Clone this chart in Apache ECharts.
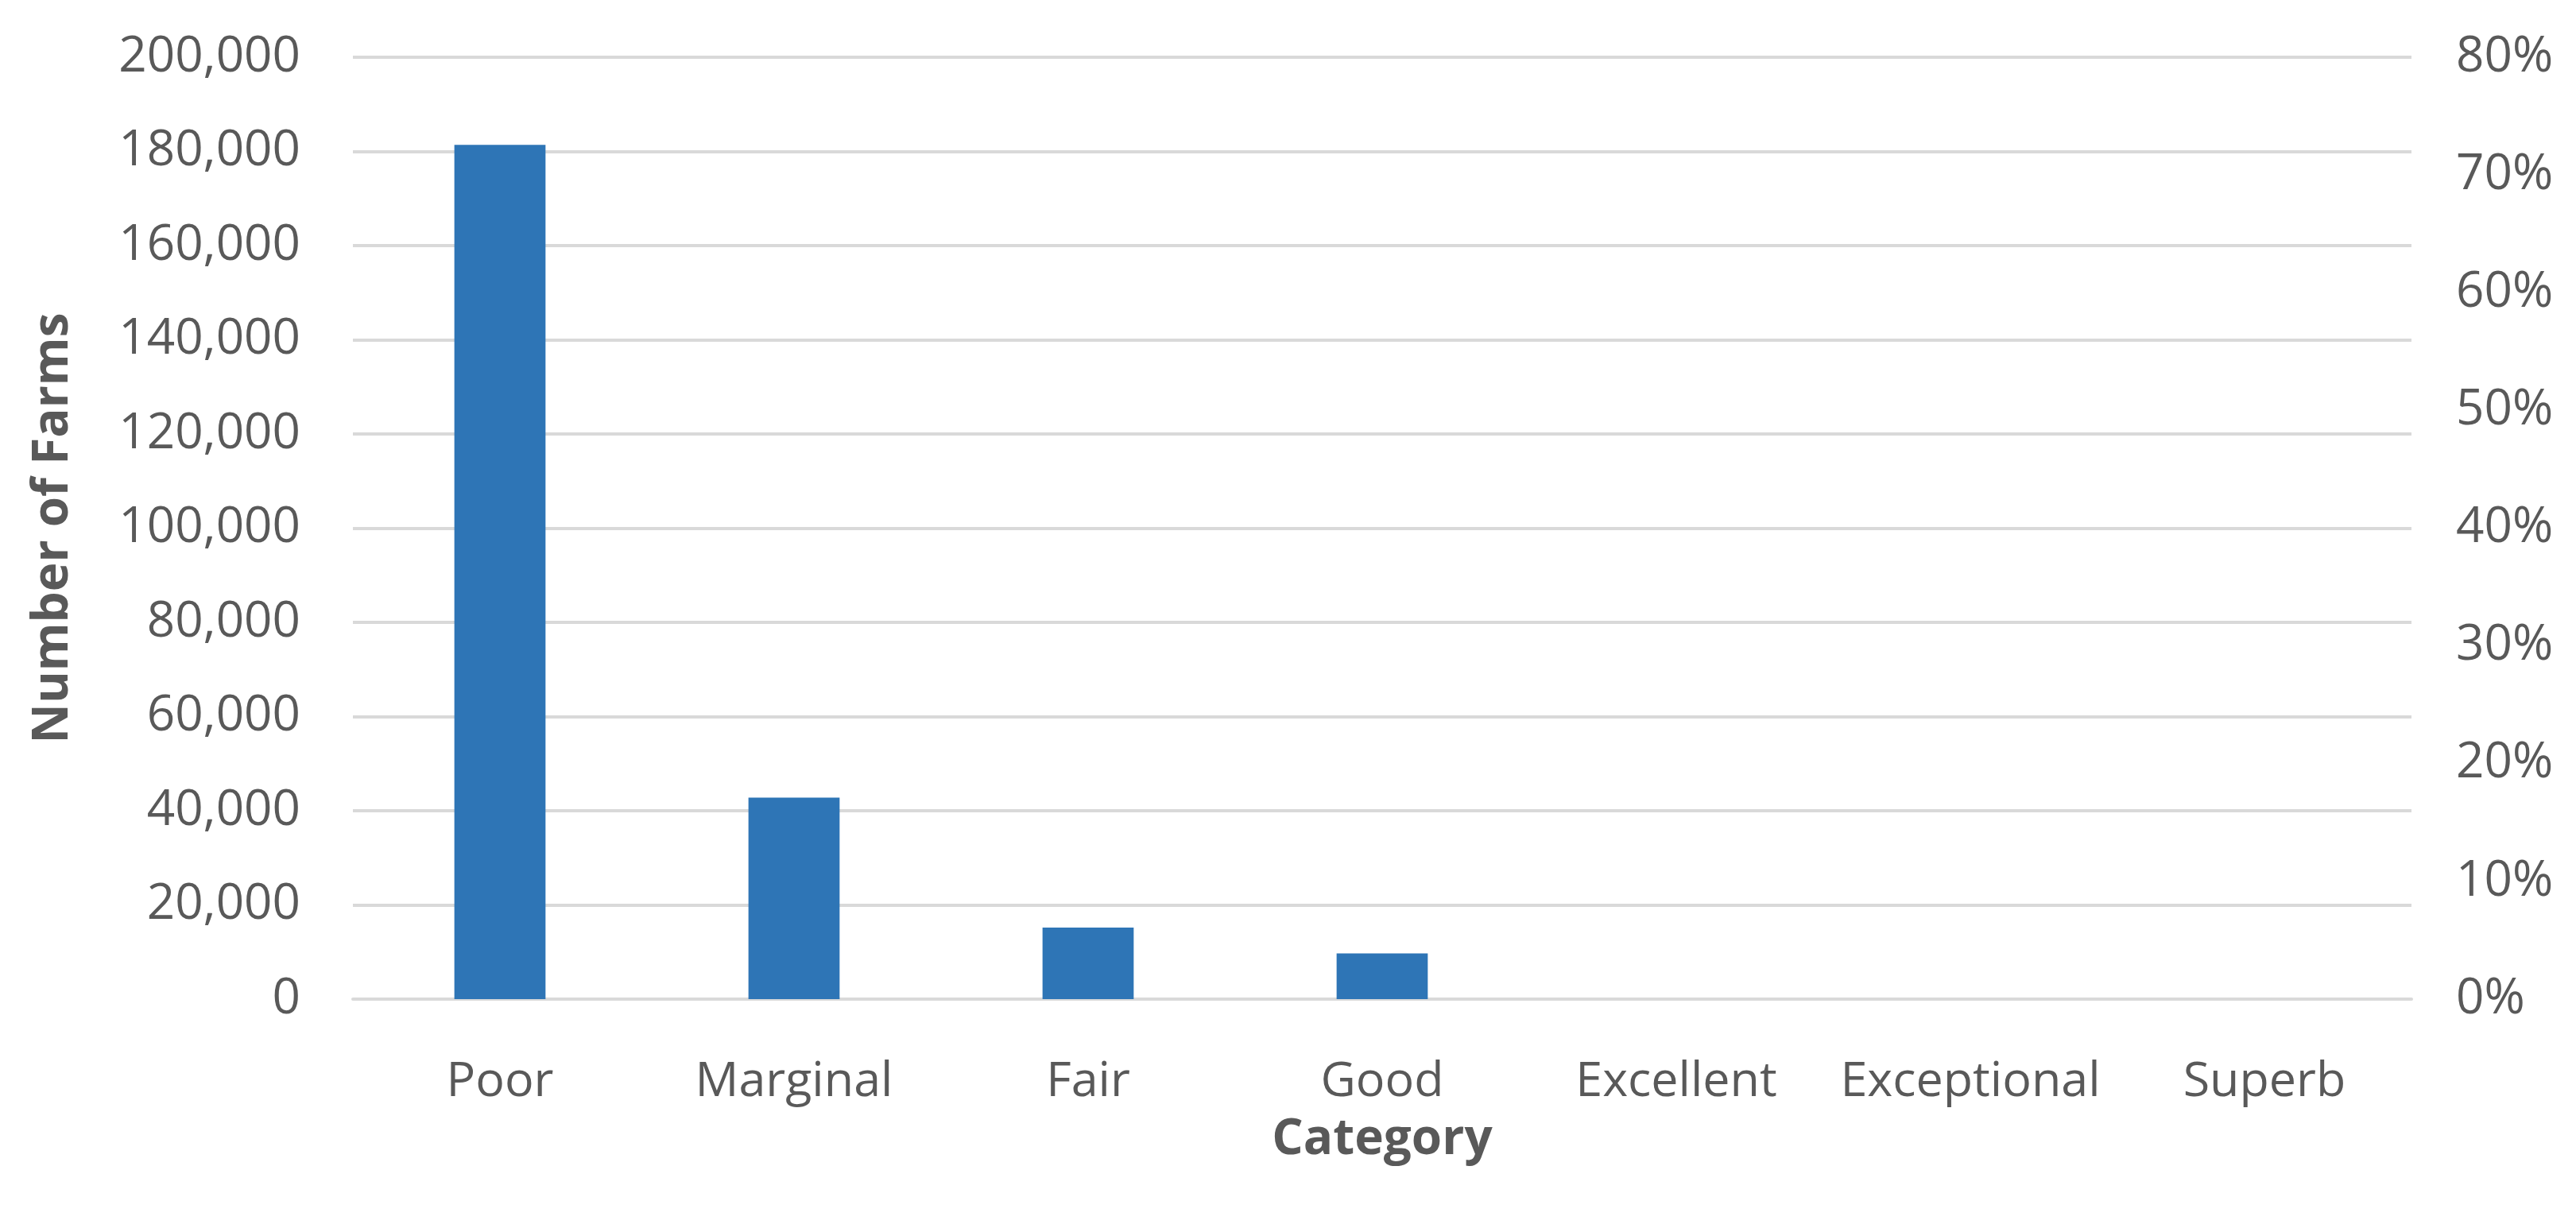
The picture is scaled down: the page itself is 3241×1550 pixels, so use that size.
<!DOCTYPE html>
<html>
<head>
<meta charset="utf-8">
<script src="https://cdn.jsdelivr.net/npm/echarts@6/dist/echarts.min.js"></script>
<style>
  html, body { margin: 0; padding: 0; background: #fff; }
  #main { width: 3241px; height: 1550px; }
</style>
</head>
<body>
<div id="main"></div>
<script>
// categories along the x axis
var categories = ['Poor', 'Marginal', 'Fair', 'Good', 'Excellent', 'Exceptional', 'Superb']
// number of farms per category
var farmCounts = [181400, 42800, 15200, 9700, 0, 0, 0]
// left axis ticks
var countMin = 0
var countMax = 200000
var countStep = 20000
// right axis ticks (share)
var shareMin = 0
var shareMax = 0.8
var shareStep = 0.1

var fontName = 'Open Sans'
var labelColor = '#595959'

var myChart = echarts.init(document.getElementById('main'))
myChart.setOption({
  animation: false,
  textStyle: { fontFamily: fontName },
  grid: {
    left: 444,
    right: 207,
    top: 72,
    bottom: 293
  },
  xAxis: {
    type: 'category',
    data: categories,
    name: 'Category',
    nameLocation: 'middle',
    nameGap: 146,
    nameTextStyle: {
      fontFamily: fontName,
      fontSize: 62,
      fontWeight: 'bold',
      color: labelColor
    },
    axisTick: { show: false },
    axisLine: {
      lineStyle: { color: '#d9d9d9', width: 4 }
    },
    axisLabel: {
      interval: 0,
      margin: 74,
      fontSize: 61,
      color: labelColor
    }
  },
  yAxis: [
    {
      type: 'value',
      min: countMin,
      max: countMax,
      interval: countStep,
      name: 'Number of Farms',
      nameLocation: 'middle',
      nameGap: 346,
      nameTextStyle: {
        fontFamily: fontName,
        fontSize: 62,
        fontWeight: 'bold',
        color: labelColor
      },
      axisLine: { show: false },
      axisTick: { show: false },
      splitLine: {
        lineStyle: { color: '#d9d9d9', width: 4 }
      },
      axisLabel: {
        margin: 66,
        fontSize: 62,
        color: labelColor,
        formatter: function (v) {
          return v.toLocaleString('en-US')
        }
      }
    },
    {
      type: 'value',
      position: 'right',
      min: shareMin,
      max: shareMax,
      interval: shareStep,
      axisLine: { show: false },
      axisTick: { show: false },
      splitLine: { show: false },
      axisLabel: {
        margin: 56,
        fontSize: 62,
        color: labelColor,
        formatter: function (v) {
          return Math.round(v * 100) + '%'
        }
      }
    }
  ],
  series: [
    {
      name: 'Number of Farms',
      type: 'bar',
      yAxisIndex: 0,
      barWidth: '31%',
      itemStyle: { color: '#2e75b6' },
      data: farmCounts
    }
  ]
})
</script>
</body>
</html>
